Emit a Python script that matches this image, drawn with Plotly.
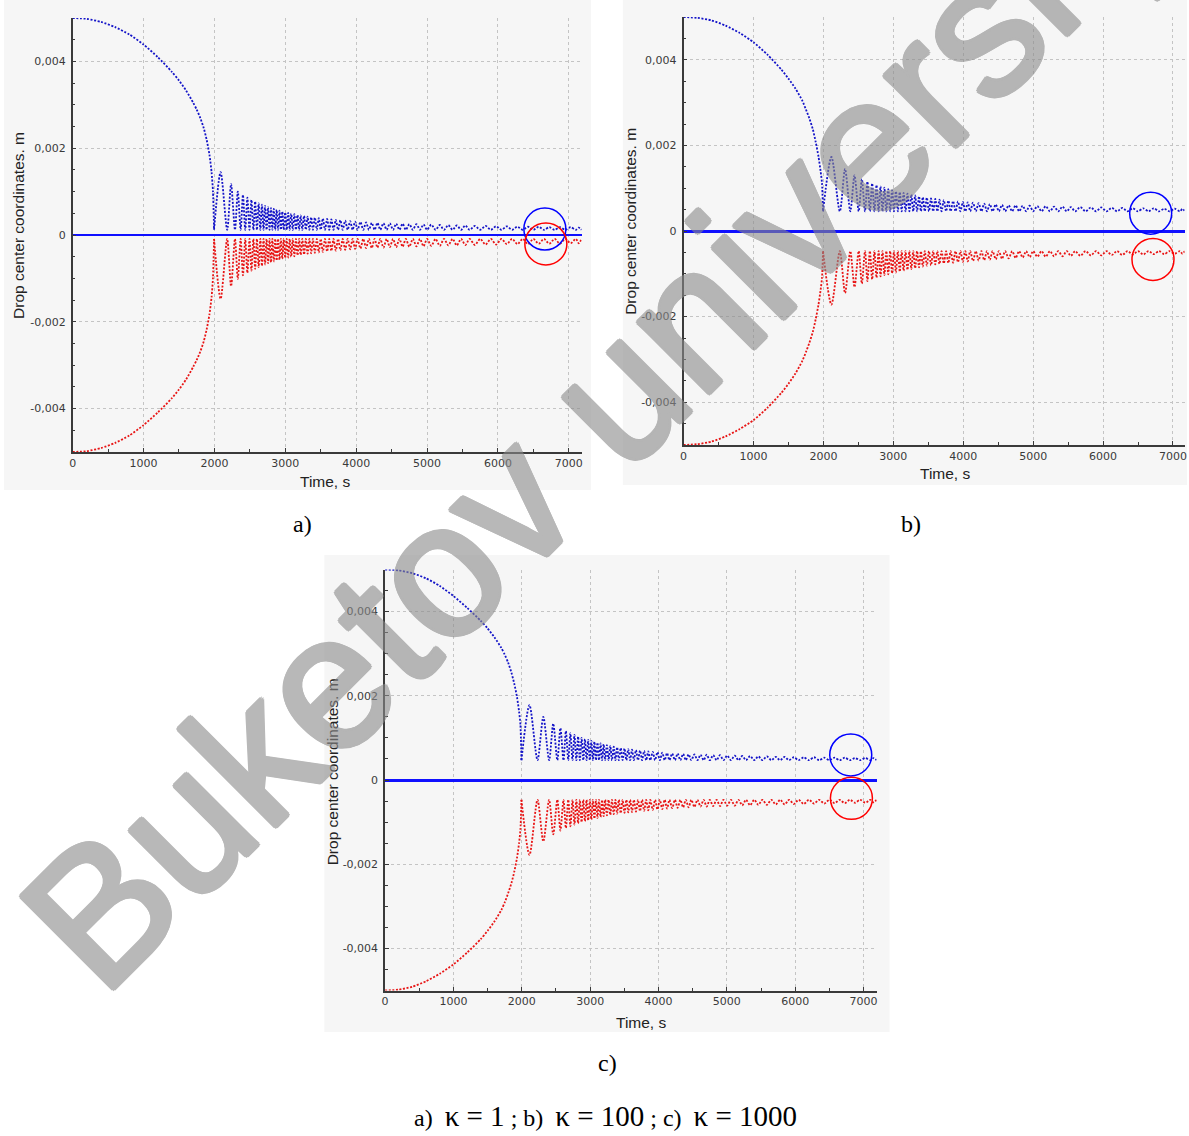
import plotly.graph_objects as go

W, H = 1189, 1136

# ---------------- data ----------------
time_ticks = [0, 1000, 2000, 3000, 4000, 5000, 6000, 7000]
ytick_vals = [-0.004, -0.002, 0, 0.002, 0.004]
ytick_text = ["-0,004", "-0,002", "0", "0,002", "0,004"]

fall_t = [0, 200, 400, 600, 800, 1000, 1200, 1400, 1500, 1600, 1700, 1750, 1800, 1850, 1890, 1930, 1960, 1980]

# panel a  (kappa = 1)
fall_blue_a = [0.00500, 0.00498, 0.00491, 0.00479, 0.00462, 0.00439, 0.00410, 0.00376, 0.00356, 0.00333,
               0.00305, 0.00289, 0.00270, 0.00246, 0.00220, 0.00185, 0.00145, 0.00100]
fall_red_a = [-0.00500, -0.00498, -0.00491, -0.00479, -0.00462, -0.00438, -0.00409, -0.00376, -0.00356, -0.00333,
              -0.00304, -0.00288, -0.00269, -0.00245, -0.00218, -0.00183, -0.00143, -0.00098]
contact_t_a = [1995, 2180, 2290, 2370, 2435, 2495, 2550, 2600, 2648, 2693,
               2736, 2778, 2818, 2858, 2898, 2938, 2978, 3020, 3062, 3105,
               3150, 3195, 3240, 3290, 3340, 3390, 3445, 3500, 3560, 3620,
               3680, 3745, 3810, 3880, 3950, 4020, 4100, 4180, 4260, 4340,
               4430, 4520, 4610, 4700, 4800, 4900, 5000, 5120, 5240, 5360,
               5480, 5600, 5750, 5900, 6050, 6200, 6350, 6500, 6650, 6800,
               6950, 7100, 7180]
floor_blue_a = 0.00012
floor_red_a = -0.00009
peak_blue_a = [0.00145, 0.00117, 0.00100, 0.00092, 0.00086, 0.00081, 0.00077, 0.00073, 0.00070, 0.00067,
               0.00064, 0.00062, 0.00060, 0.00058, 0.00056, 0.00054, 0.00052, 0.00051, 0.00049, 0.00048,
               0.00046, 0.00045, 0.00044, 0.00042, 0.00041, 0.00040, 0.00039, 0.00038, 0.00037, 0.00036,
               0.00035, 0.00034, 0.00033, 0.00032, 0.00031, 0.00030, 0.00029, 0.00028, 0.00028, 0.00027,
               0.00027, 0.00026, 0.00026, 0.00025, 0.00025, 0.00024, 0.00024, 0.00023, 0.00023, 0.00022,
               0.00022, 0.00021, 0.00021, 0.00020, 0.00020, 0.00019, 0.00019, 0.00019, 0.00018, 0.00018,
               0.00018, 0.00017]
peak_red_a = [-0.00147, -0.00118, -0.00101, -0.00093, -0.00087, -0.00082, -0.00078, -0.00074, -0.00071, -0.00068,
              -0.00065, -0.00063, -0.00061, -0.00059, -0.00057, -0.00055, -0.00053, -0.00052, -0.00050, -0.00049,
              -0.00047, -0.00046, -0.00045, -0.00043, -0.00042, -0.00041, -0.00040, -0.00039, -0.00038, -0.00037,
              -0.00036, -0.00035, -0.00034, -0.00033, -0.00032, -0.00031, -0.00030, -0.00030, -0.00029, -0.00029,
              -0.00028, -0.00028, -0.00027, -0.00027, -0.00026, -0.00026, -0.00025, -0.00025, -0.00024, -0.00024,
              -0.00023, -0.00023, -0.00022, -0.00022, -0.00021, -0.00021, -0.00021, -0.00020, -0.00020, -0.00020,
              -0.00019, -0.00019]

# panel b  (kappa = 100)
fall_blue_b = [0.00500, 0.00498, 0.00492, 0.00480, 0.00463, 0.00441, 0.00412, 0.00377, 0.00356, 0.00333,
               0.00304, 0.00284, 0.00263, 0.00237, 0.00208, 0.00174, 0.00140, 0.00112]
fall_red_b = [-0.00500, -0.00498, -0.00492, -0.00480, -0.00463, -0.00442, -0.00413, -0.00378, -0.00357, -0.00333,
              -0.00303, -0.00283, -0.00261, -0.00235, -0.00206, -0.00172, -0.00138, -0.00110]
contact_t_b = [1995, 2235, 2385, 2505, 2595, 2665, 2730, 2790, 2845, 2900,
               2955, 3010, 3065, 3120, 3175, 3230, 3285, 3340, 3395, 3450,
               3510, 3570, 3630, 3690, 3755, 3820, 3890, 3960, 4030, 4100,
               4180, 4260, 4340, 4420, 4510, 4600, 4700, 4800, 4900, 5000,
               5120, 5240, 5360, 5480, 5600, 5750, 5900, 6050, 6200, 6350,
               6500, 6650, 6800, 6950, 7100, 7170]
floor_blue_b = 0.00046
floor_red_b = -0.00047
peak_blue_b = [0.00173, 0.00145, 0.00130, 0.00121, 0.00115, 0.00111, 0.00107, 0.00104, 0.00101, 0.00098,
               0.00095, 0.00093, 0.00091, 0.00089, 0.00087, 0.00085, 0.00083, 0.00081, 0.00079, 0.00078,
               0.00076, 0.00075, 0.00073, 0.00072, 0.00071, 0.00070, 0.00069, 0.00068, 0.00067, 0.00066,
               0.00065, 0.00064, 0.00063, 0.00062, 0.00061, 0.00060, 0.00060, 0.00059, 0.00059, 0.00058,
               0.00058, 0.00057, 0.00057, 0.00056, 0.00056, 0.00055, 0.00055, 0.00054, 0.00054, 0.00053,
               0.00053, 0.00053, 0.00052, 0.00052, 0.00052]
peak_red_b = [-0.00172, -0.00145, -0.00131, -0.00123, -0.00117, -0.00113, -0.00109, -0.00106, -0.00103, -0.00101,
              -0.00099, -0.00097, -0.00095, -0.00093, -0.00091, -0.00089, -0.00087, -0.00085, -0.00083, -0.00081,
              -0.00080, -0.00078, -0.00077, -0.00076, -0.00075, -0.00074, -0.00073, -0.00072, -0.00071, -0.00070,
              -0.00069, -0.00068, -0.00067, -0.00066, -0.00065, -0.00064, -0.00063, -0.00062, -0.00061, -0.00060,
              -0.00060, -0.00059, -0.00059, -0.00058, -0.00058, -0.00057, -0.00057, -0.00056, -0.00056, -0.00055,
              -0.00055, -0.00054, -0.00054, -0.00053, -0.00053]

# panel c  (kappa = 1000)
fall_blue_c = [0.00500, 0.00498, 0.00491, 0.00479, 0.00461, 0.00437, 0.00409, 0.00378, 0.00360, 0.00339,
               0.00314, 0.00298, 0.00279, 0.00254, 0.00229, 0.00197, 0.00163, 0.00132]
fall_red_c = [-0.00500, -0.00498, -0.00491, -0.00478, -0.00460, -0.00438, -0.00410, -0.00378, -0.00358, -0.00336,
              -0.00309, -0.00291, -0.00269, -0.00244, -0.00218, -0.00185, -0.00150, -0.00118]
contact_t_c = [1995, 2230, 2400, 2520, 2610, 2680, 2742, 2798, 2850, 2900,
               2948, 2995, 3040, 3085, 3130, 3175, 3220, 3270, 3320, 3370,
               3420, 3475, 3530, 3585, 3640, 3700, 3760, 3820, 3880, 3950,
               4020, 4090, 4160, 4240, 4320, 4400, 4480, 4570, 4660, 4750,
               4850, 4950, 5060, 5170, 5280, 5400, 5520, 5650, 5780, 5910,
               6050, 6200, 6350, 6500, 6650, 6800, 6950, 7100, 7190]
floor_blue_c = 0.00047
floor_red_c = -0.00047
peak_blue_c = [0.00178, 0.00150, 0.00134, 0.00123, 0.00116, 0.00111, 0.00107, 0.00103, 0.00100, 0.00097,
               0.00095, 0.00093, 0.00091, 0.00089, 0.00087, 0.00085, 0.00083, 0.00081, 0.00079, 0.00078,
               0.00076, 0.00075, 0.00073, 0.00072, 0.00071, 0.00070, 0.00069, 0.00068, 0.00067, 0.00066,
               0.00065, 0.00064, 0.00063, 0.00063, 0.00062, 0.00061, 0.00061, 0.00060, 0.00060, 0.00059,
               0.00059, 0.00058, 0.00058, 0.00057, 0.00057, 0.00056, 0.00056, 0.00055, 0.00055, 0.00054,
               0.00054, 0.00054, 0.00053, 0.00053, 0.00053, 0.00052, 0.00052, 0.00052]
peak_red_c = [-0.00178, -0.00146, -0.00129, -0.00120, -0.00114, -0.00110, -0.00106, -0.00103, -0.00100, -0.00098,
              -0.00096, -0.00094, -0.00092, -0.00090, -0.00088, -0.00086, -0.00084, -0.00083, -0.00081, -0.00080,
              -0.00079, -0.00078, -0.00077, -0.00076, -0.00075, -0.00074, -0.00073, -0.00072, -0.00071, -0.00070,
              -0.00069, -0.00068, -0.00067, -0.00066, -0.00065, -0.00065, -0.00064, -0.00063, -0.00063, -0.00062,
              -0.00062, -0.00061, -0.00061, -0.00060, -0.00060, -0.00059, -0.00059, -0.00058, -0.00058, -0.00057,
              -0.00057, -0.00056, -0.00056, -0.00055, -0.00055, -0.00054, -0.00054, -0.00053]

# highlighted end states (circles)
circle_t_a = [6662, 6676]
circle_y_a = [0.000138, -0.000207]
circle_t_b = [6681, 6714]
circle_y_b = [0.000415, -0.000663]
circle_t_c = [6812, 6822]
circle_y_c = [0.000594, -0.000435]

# ---------------- styles / layout ----------------
BLUE = "#1414c8"
RED = "#e81515"
DOT = "2px,1.6px"
TICKFONT = dict(family="DejaVu Sans, Verdana, sans-serif", size=11, color="#3a3a3a")
LABFONT = dict(family="Liberation Sans, Arial, sans-serif", size=15.5, color="#222222")


def bounce(contacts, floor, peaks):
    xs = [contacts[0]]
    ys = [floor]
    for t0, t1, p in zip(contacts[:-1], contacts[1:], peaks):
        xs += [(t0 + t1) / 2.0, t1]
        ys += [p, floor]
    return xs, ys


panels = [
    dict(ax="", fall_b=fall_blue_a, fall_r=fall_red_a, ct=contact_t_a, fb=floor_blue_a, fr=floor_red_a,
         pb=peak_blue_a, pr=peak_red_a, ctt=circle_t_a, cty=circle_y_a,
         xdom=[69 / W, 580.5 / W], ydom=[1 - 452 / H, 1 - 18 / H], xr=[0, 7180], zw=1.6),
    dict(ax="2", fall_b=fall_blue_b, fall_r=fall_red_b, ct=contact_t_b, fb=floor_blue_b, fr=floor_red_b,
         pb=peak_blue_b, pr=peak_red_b, ctt=circle_t_b, cty=circle_y_b,
         xdom=[683 / W, 1186.5 / W], ydom=[1 - 445 / H, 1 - 17 / H], xr=[0, 7165], zw=2.6),
    dict(ax="3", fall_b=fall_blue_c, fall_r=fall_red_c, ct=contact_t_c, fb=floor_blue_c, fr=floor_red_c,
         pb=peak_blue_c, pr=peak_red_c, ctt=circle_t_c, cty=circle_y_c,
         xdom=[383 / W, 877 / W], ydom=[1 - 990.5 / H, 1 - 569.5 / H], xr=[0, 7190], zw=2.6),
]

fig = go.Figure()
layout_axes = {}
for p in panels:
    xa, ya = "x" + p["ax"], "y" + p["ax"]
    # falling branch
    fig.add_trace(go.Scatter(x=fall_t + [p["ct"][0]], y=p["fall_b"] + [p["fb"]], xaxis=xa, yaxis=ya,
                             mode="lines", line=dict(color=BLUE, width=1.8, dash=DOT, shape="spline",
                                                     smoothing=0.6), hoverinfo="skip"))
    fig.add_trace(go.Scatter(x=fall_t + [p["ct"][0]], y=p["fall_r"] + [p["fr"]], xaxis=xa, yaxis=ya,
                             mode="lines", line=dict(color=RED, width=1.8, dash=DOT, shape="spline",
                                                     smoothing=0.6), hoverinfo="skip"))
    # bouncing branch
    bx, by = bounce(p["ct"], p["fb"], p["pb"])
    fig.add_trace(go.Scatter(x=bx, y=by, xaxis=xa, yaxis=ya, mode="lines",
                             line=dict(color=BLUE, width=1.8, dash=DOT, shape="spline", smoothing=0.8),
                             hoverinfo="skip"))
    rx, ry = bounce(p["ct"], p["fr"], p["pr"])
    fig.add_trace(go.Scatter(x=rx, y=ry, xaxis=xa, yaxis=ya, mode="lines",
                             line=dict(color=RED, width=1.8, dash=DOT, shape="spline", smoothing=0.8),
                             hoverinfo="skip"))
    # circles
    fig.add_trace(go.Scatter(x=p["ctt"], y=p["cty"], xaxis=xa, yaxis=ya, mode="markers",
                             marker=dict(symbol="circle-open", size=42,
                                         color=["#0000ff", "#ff0000"], line=dict(width=1.5)),
                             hoverinfo="skip"))
    key = p["ax"]
    layout_axes["xaxis" + key] = dict(
        domain=p["xdom"], range=p["xr"], anchor=ya, tickvals=time_ticks,
        showgrid=True, gridcolor="#c4c4c4", griddash="dot", gridwidth=1,
        showline=True, linecolor="#3a3a3a", linewidth=1.5, zeroline=False,
        ticks="inside", ticklen=4, tickcolor="#3a3a3a", tickfont=TICKFONT,
        minor=dict(dtick=500, ticks="inside", ticklen=3, tickcolor="#3a3a3a", showgrid=False),
        fixedrange=True)
    layout_axes["yaxis" + key] = dict(
        domain=p["ydom"], range=[-0.005, 0.005], anchor=xa, tickvals=ytick_vals, ticktext=ytick_text,
        showgrid=True, gridcolor="#c4c4c4", griddash="dot", gridwidth=1,
        showline=True, linecolor="#3a3a3a", linewidth=1.5,
        zeroline=True, zerolinecolor="#1010ff", zerolinewidth=p["zw"],
        ticks="inside", ticklen=4, tickcolor="#3a3a3a", tickfont=TICKFONT, ticklabelstandoff=3,
        minor=dict(dtick=0.0005, ticks="inside", ticklen=3, tickcolor="#3a3a3a", showgrid=False),
        fixedrange=True)

# panel backdrops (light gray screenshot frames)
frames = [(0, 0, 590, 490), (622, 0, 1189, 485), (322, 555, 890, 1032)]
shapes = []
for (x0, y0, x1, y1) in frames:
    shapes.append(dict(type="rect", xref="paper", yref="paper", layer="below",
                       x0=x0 / W, x1=x1 / W, y0=1 - y1 / H, y1=1 - y0 / H,
                       fillcolor="#f6f6f6", line=dict(width=0)))

annotations = []
# axis titles
for (cx, cy) in [(323, 481), (946, 474), (640, 1022)]:
    annotations.append(dict(text="Time, s", x=cx / W, y=1 - cy / H, xref="paper", yref="paper",
                            showarrow=False, font=LABFONT, xanchor="center", yanchor="middle"))
for (cx, cy) in [(15, 225), (629, 221), (330, 772)]:
    annotations.append(dict(text="Drop center coordinates. m", x=cx / W, y=1 - cy / H, xref="paper",
                            yref="paper", showarrow=False, font=LABFONT, textangle=-90,
                            xanchor="center", yanchor="middle"))
# sub-figure letters
SERIF = "Liberation Serif, Times New Roman, serif"
for (lab, cx, cy) in [("a)", 300, 524), ("b)", 912, 524), ("c)", 607, 1063)]:
    annotations.append(dict(text=lab, x=cx / W, y=1 - cy / H, xref="paper", yref="paper", showarrow=False,
                            font=dict(family=SERIF, size=24, color="#000000"),
                            xanchor="center", yanchor="middle"))
cap = ("a)  <span style='font-size:29px'>κ = 1</span> ; b)  <span style='font-size:29px'>κ = 100</span> ; "
       "c)  <span style='font-size:29px'>κ = 1000</span>")
annotations.append(dict(text=cap, x=605 / W, y=1 - 1116 / H, xref="paper", yref="paper", showarrow=False,
                        font=dict(family=SERIF, size=24, color="#000000"),
                        xanchor="center", yanchor="middle"))
# watermark: regular face thickened with a same-colour text shadow, whole group semi-transparent
WM = "#8a8a8a"
wm_shadow = ", ".join("%gpx %gpx 0 %s" % (dx, dy, WM)
                      for dx, dy in [(2.5, 0), (-2.5, 0), (0, 2.5), (0, -2.5),
                                     (1.8, 1.8), (-1.8, 1.8), (1.8, -1.8), (-1.8, -1.8)])
annotations.append(dict(text="Buketov university", x=600 / W, y=1 - 408 / H, xref="paper",
                        yref="paper", showarrow=False, textangle=-45, opacity=0.6,
                        font=dict(family="Liberation Sans, Arial, sans-serif", size=190,
                                  color=WM, shadow=wm_shadow),
                        xanchor="center", yanchor="middle"))

fig.update_layout(
    width=W, height=H, margin=dict(l=0, r=0, t=0, b=0),
    paper_bgcolor="#ffffff", plot_bgcolor="#fdfdfd",
    showlegend=False, shapes=shapes, annotations=annotations,
    **layout_axes)

fig.write_html("out.html", config={"displayModeBar": False},
               post_script="document.body.style.margin='0';document.body.style.overflow='hidden';")
